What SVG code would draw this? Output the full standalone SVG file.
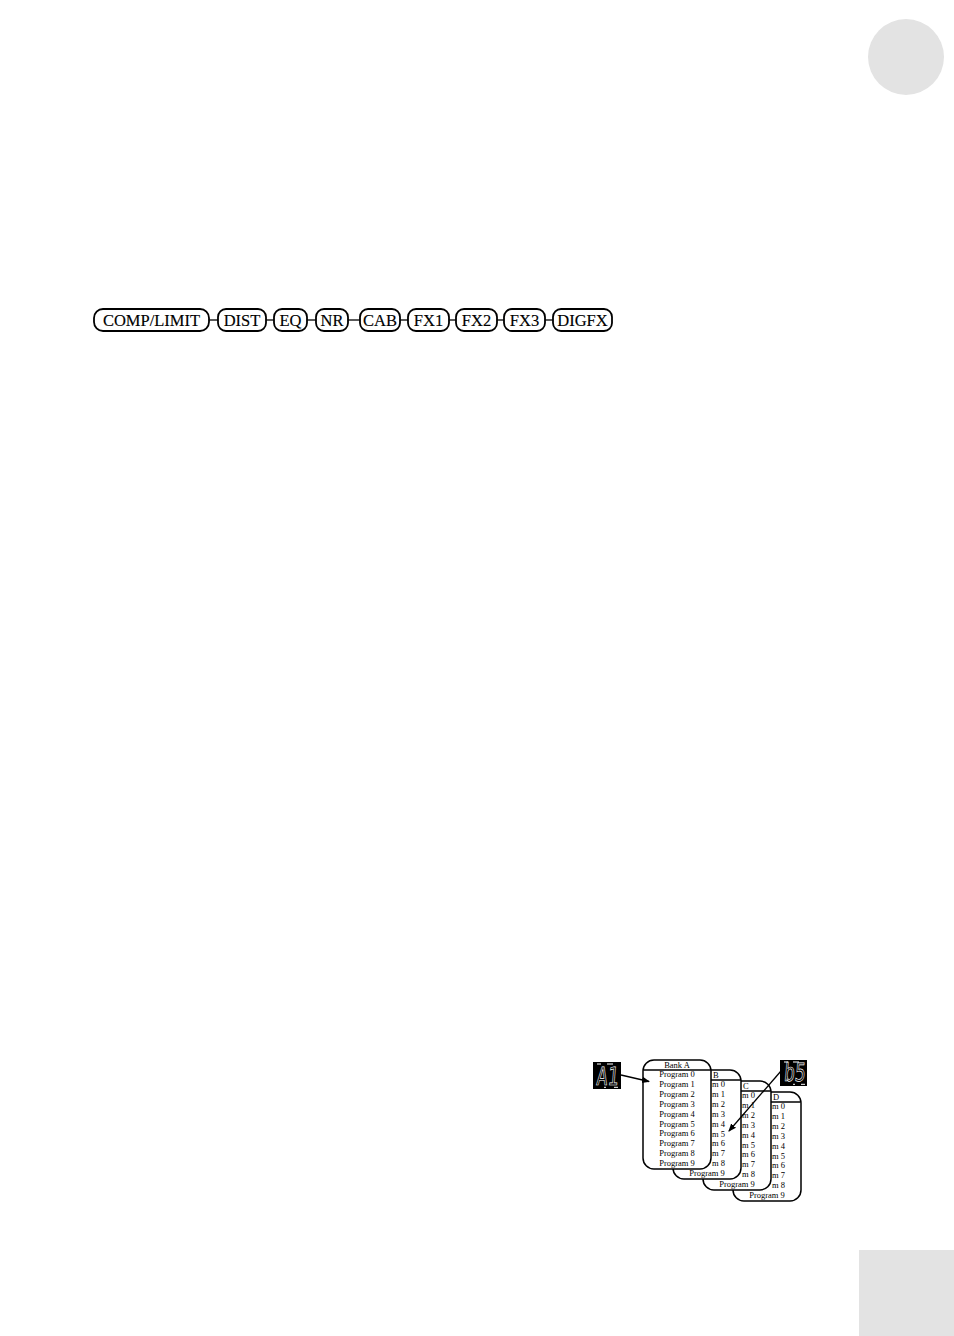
<svg xmlns="http://www.w3.org/2000/svg" width="954" height="1336" viewBox="0 0 954 1336">
<defs>
<style>
.box{fill:#fff;stroke:#000;stroke-width:1.8}
.lbl{font-family:"Liberation Serif","Times New Roman",serif;font-size:16.5px;text-anchor:middle;fill:#000;stroke:#000;stroke-width:0.15}
.con{stroke:#000;stroke-width:1.3;fill:none}
.card{fill:#fff;stroke:#000;stroke-width:1.5}
.sep{stroke:#000;stroke-width:1.3}
.ct{font-family:"Liberation Serif","Times New Roman",serif;font-size:8.5px;text-anchor:middle;fill:#000}
.cs{font-family:"Liberation Serif","Times New Roman",serif;font-size:8.5px;text-anchor:start;fill:#000}
.disp{fill:#000}
.seg{font-family:"DejaVu Sans Mono","Liberation Mono",monospace;font-size:25px;fill:none;stroke:#fff;stroke-width:0.7}
.tick{fill:#fff}
.arr{stroke:#000;stroke-width:1.3;fill:none}
</style>
<marker id="ah" markerWidth="8" markerHeight="8" refX="7" refY="4" orient="auto" markerUnits="userSpaceOnUse">
<path d="M0,0.8 L8,4 L0,7.2 Z" fill="#000"/>
</marker>
<g id="cardbody">
<rect class="card" x="643" y="1060" width="68" height="109" rx="11" ry="11"/>
<line class="sep" x1="643.5" y1="1070" x2="710.5" y2="1070"/>
</g>
</defs>

<circle cx="906" cy="57" r="38" fill="#e3e3e3"/>
<rect x="859" y="1250" width="95" height="86" fill="#e3e3e3"/>

<g id="connectors">
<line class="con" x1="209" y1="320" x2="218" y2="320"/>
<line class="con" x1="266" y1="320" x2="274" y2="320"/>
<line class="con" x1="307" y1="320" x2="316" y2="320"/>
<line class="con" x1="348" y1="320" x2="360" y2="320"/>
<line class="con" x1="400" y1="320" x2="408" y2="320"/>
<line class="con" x1="449" y1="320" x2="456" y2="320"/>
<line class="con" x1="497" y1="320" x2="504" y2="320"/>
<line class="con" x1="545" y1="320" x2="553" y2="320"/>
</g>

<g id="comp"><rect class="box" x="94" y="309" width="115" height="22" rx="9"/><text class="lbl" x="151.5" y="326">COMP/LIMIT</text></g>
<g id="dist"><rect class="box" x="218" y="309" width="48" height="22" rx="8"/><text class="lbl" x="242" y="326">DIST</text></g>
<g id="eq"><rect class="box" x="274" y="309" width="33" height="22" rx="8"/><text class="lbl" x="290.5" y="326">EQ</text></g>
<g id="nr"><rect class="box" x="316" y="309" width="32" height="22" rx="8"/><text class="lbl" x="332" y="326">NR</text></g>
<g id="cab"><rect class="box" x="360" y="309" width="40" height="22" rx="8"/><text class="lbl" x="380" y="326">CAB</text></g>
<g id="fx1"><rect class="box" x="408" y="309" width="41" height="22" rx="8"/><text class="lbl" x="428.5" y="326">FX1</text></g>
<g id="fx2"><rect class="box" x="456" y="309" width="41" height="22" rx="8"/><text class="lbl" x="476.5" y="326">FX2</text></g>
<g id="fx3"><rect class="box" x="504" y="309" width="41" height="22" rx="8"/><text class="lbl" x="524.5" y="326">FX3</text></g>
<g id="digfx"><rect class="box" x="553" y="309" width="59" height="22" rx="8"/><text class="lbl" x="582.5" y="326">DIGFX</text></g>

<g id="bankD" transform="translate(90,32)">
<use href="#cardbody"/>
<text class="cs" x="683" y="1068">D</text>
<text class="cs" x="682" y="1077">m 0</text>
<text class="cs" x="682" y="1086.9">m 1</text>
<text class="cs" x="682" y="1096.8">m 2</text>
<text class="cs" x="682" y="1106.7">m 3</text>
<text class="cs" x="682" y="1116.6">m 4</text>
<text class="cs" x="682" y="1126.5">m 5</text>
<text class="cs" x="682" y="1136.4">m 6</text>
<text class="cs" x="682" y="1146.3">m 7</text>
<text class="cs" x="682" y="1156.2">m 8</text>
<text class="ct" x="677" y="1166.1">Program 9</text>
</g>
<g id="bankC" transform="translate(60,21)">
<use href="#cardbody"/>
<text class="cs" x="683" y="1068">C</text>
<text class="cs" x="682" y="1077">m 0</text>
<text class="cs" x="682" y="1086.9">m 1</text>
<text class="cs" x="682" y="1096.8">m 2</text>
<text class="cs" x="682" y="1106.7">m 3</text>
<text class="cs" x="682" y="1116.6">m 4</text>
<text class="cs" x="682" y="1126.5">m 5</text>
<text class="cs" x="682" y="1136.4">m 6</text>
<text class="cs" x="682" y="1146.3">m 7</text>
<text class="cs" x="682" y="1156.2">m 8</text>
<text class="ct" x="677" y="1166.1">Program 9</text>
</g>
<g id="bankB" transform="translate(30,10)">
<use href="#cardbody"/>
<text class="cs" x="683" y="1068">B</text>
<text class="cs" x="682" y="1077">m 0</text>
<text class="cs" x="682" y="1086.9">m 1</text>
<text class="cs" x="682" y="1096.8">m 2</text>
<text class="cs" x="682" y="1106.7">m 3</text>
<text class="cs" x="682" y="1116.6">m 4</text>
<text class="cs" x="682" y="1126.5">m 5</text>
<text class="cs" x="682" y="1136.4">m 6</text>
<text class="cs" x="682" y="1146.3">m 7</text>
<text class="cs" x="682" y="1156.2">m 8</text>
<text class="ct" x="677" y="1166.1">Program 9</text>
</g>
<g id="bankA">
<use href="#cardbody"/>
<text class="ct" x="677" y="1068">Bank A</text>
<text class="ct" x="677" y="1077">Program 0</text>
<text class="ct" x="677" y="1086.9">Program 1</text>
<text class="ct" x="677" y="1096.8">Program 2</text>
<text class="ct" x="677" y="1106.7">Program 3</text>
<text class="ct" x="677" y="1116.6">Program 4</text>
<text class="ct" x="677" y="1126.5">Program 5</text>
<text class="ct" x="677" y="1136.4">Program 6</text>
<text class="ct" x="677" y="1146.3">Program 7</text>
<text class="ct" x="677" y="1156.2">Program 8</text>
<text class="ct" x="677" y="1166.1">Program 9</text>
</g>

<g id="displayA1">
<rect class="disp" x="593" y="1062" width="28" height="27"/>
<rect class="tick" x="597" y="1063.5" width="4" height="1"/>
<rect class="tick" x="607" y="1063.5" width="6" height="1"/>
<rect class="tick" x="604" y="1086.8" width="2" height="1"/>
<rect class="tick" x="614" y="1086.8" width="4" height="1"/>
<text class="seg" x="596" y="1085.5" textLength="22" lengthAdjust="spacingAndGlyphs" transform="skewX(-5) translate(95,0)">A1</text>
</g>
<g id="displayB5">
<rect class="disp" x="780" y="1060" width="27" height="26"/>
<rect class="tick" x="784" y="1061.5" width="4" height="1"/>
<rect class="tick" x="793" y="1061.5" width="6" height="1"/>
<rect class="tick" x="793" y="1083.8" width="2" height="1"/>
<rect class="tick" x="801" y="1083.8" width="4" height="1"/>
<text class="seg" x="783.5" y="1081" textLength="21.5" lengthAdjust="spacingAndGlyphs" transform="skewX(-5) translate(94.5,0)">b5</text>
</g>

<g id="arrows">
<line class="arr" x1="621" y1="1075" x2="649" y2="1081.5" marker-end="url(#ah)"/>
<line class="arr" x1="781" y1="1071" x2="729" y2="1131" marker-end="url(#ah)"/>
</g>
</svg>
